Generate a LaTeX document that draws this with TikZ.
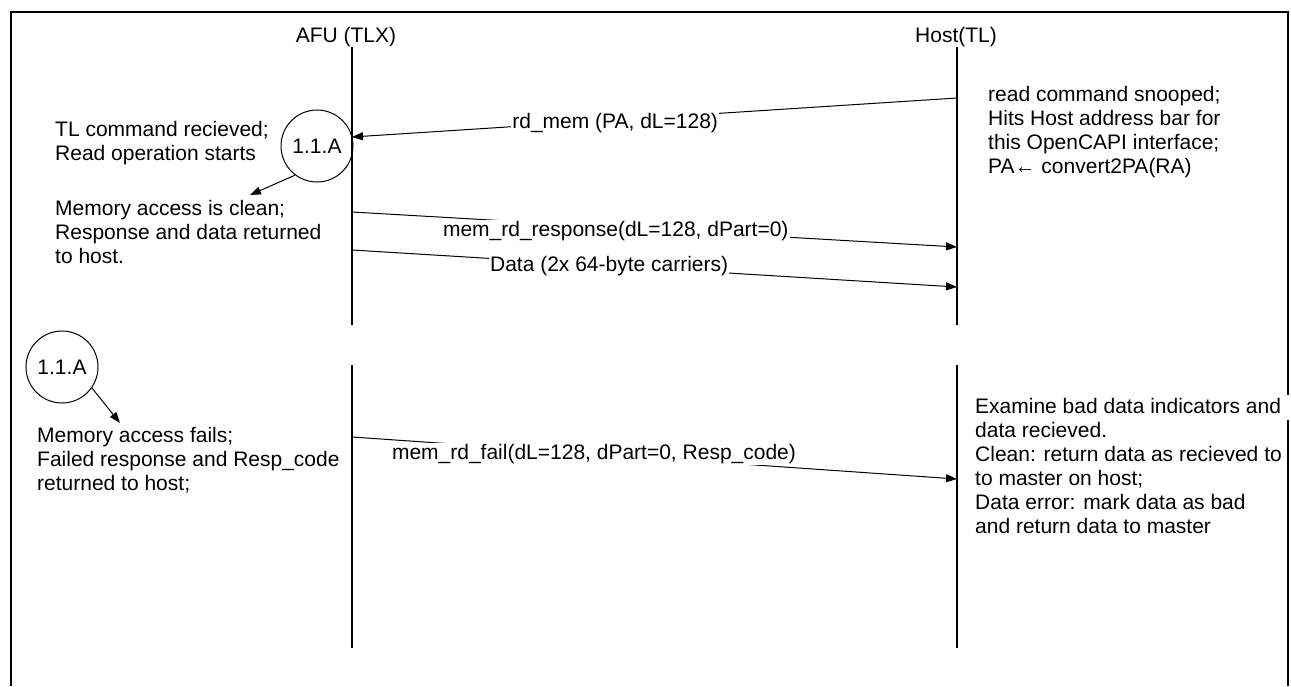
\documentclass[tikz,border=0pt]{standalone}
\usepackage{fontspec}
\setmainfont{Liberation Sans}
\usetikzlibrary{arrows.meta}
\begin{document}
\begin{tikzpicture}[x=1pt,y=-1pt,
  every node/.style={font=\fontsize{21}{24}\selectfont},
  frame/.style={line width=2pt},
  life/.style={line width=2pt},
  msg/.style={line width=1pt,-{Triangle[length=11pt,width=8pt]}},
  lbl/.style={fill=white,inner sep=1pt},
  note/.style={anchor=west,align=left,inner sep=0pt},
  stepcircle/.style={draw,line width=1pt,circle,minimum size=72pt,inner sep=0pt}]
\useasboundingbox (0,0) rectangle (1291,686);
% frame
\draw[frame] (11,686) -- (11,12) -- (1288,12) -- (1288,395);
\draw[frame] (1288,420) -- (1288,686);
% titles
\node (afu) at (346,37) {AFU (TLX)};
\node (host) at (956,37) {Host(TL)};
% lifelines
\coordinate (a1t) at (352,47); \coordinate (a1b) at (352,325);
\coordinate (h1t) at (957,47); \coordinate (h1b) at (957,325);
\coordinate (a2t) at (352,365); \coordinate (a2b) at (352,648);
\coordinate (h2t) at (957,365); \coordinate (h2b) at (957,648);
\draw[life] (a1t) -- (a1b);
\draw[life] (h1t) -- (h1b);
\draw[life] (a2t) -- (a2b);
\draw[life] (h2t) -- (h2b);
% messages
\coordinate (hrd) at (957,98); \coordinate (ard) at (352,137);
\draw[msg] (hrd) -- node[lbl,pos=0.565,yshift=-3pt] {rd\_mem (PA, dL=128)} (ard);
\coordinate (aresp) at (352,212); \coordinate (hresp) at (957,247);
\draw[msg] (aresp) -- node[lbl,pos=0.436,yshift=-4pt] {mem\_rd\_response(dL=128, dPart=0)} (hresp);
\coordinate (adata) at (352,250); \coordinate (hdata) at (957,287);
\draw[msg] (adata) -- node[lbl,pos=0.425] {Data (2x 64-byte carriers)} (hdata);
\coordinate (afail) at (352,437); \coordinate (hfail) at (957,479);
\draw[msg] (afail) -- node[lbl,pos=0.40] {mem\_rd\_fail(dL=128, dPart=0, Resp\_code)} (hfail);
% step circles
\node[stepcircle] (c1) at (317,146) {1.1.A};
\node[stepcircle] (c2) at (62,367) {1.1.A};
\coordinate (t1) at (250,195);
\coordinate (t2) at (120,423);
\draw[msg] (c1.233) -- (t1);
\draw[msg] (c2.325) -- (t2);
% notes
\node[note] (n1) at (55,143) {TL command recieved;\\Read operation starts};
\node[note] (n2) at (55,232) {Memory access is clean;\\Response and data returned\\to host.};
\node[note] (n3) at (37,460) {Memory access fails;\\Failed response and Resp\_code\\returned to host;};
\node[note] (n4) at (988,132) {read command snooped;\\Hits Host address bar for\\this OpenCAPI interface;\\PA← convert2PA(RA)};
\node[note] (n5) at (975,466) {Examine bad data indicators and\\data recieved.\\Clean: return data as recieved to\\to master on host;\\Data error: mark data as bad\\and return data to master};
\end{tikzpicture}
\end{document}
